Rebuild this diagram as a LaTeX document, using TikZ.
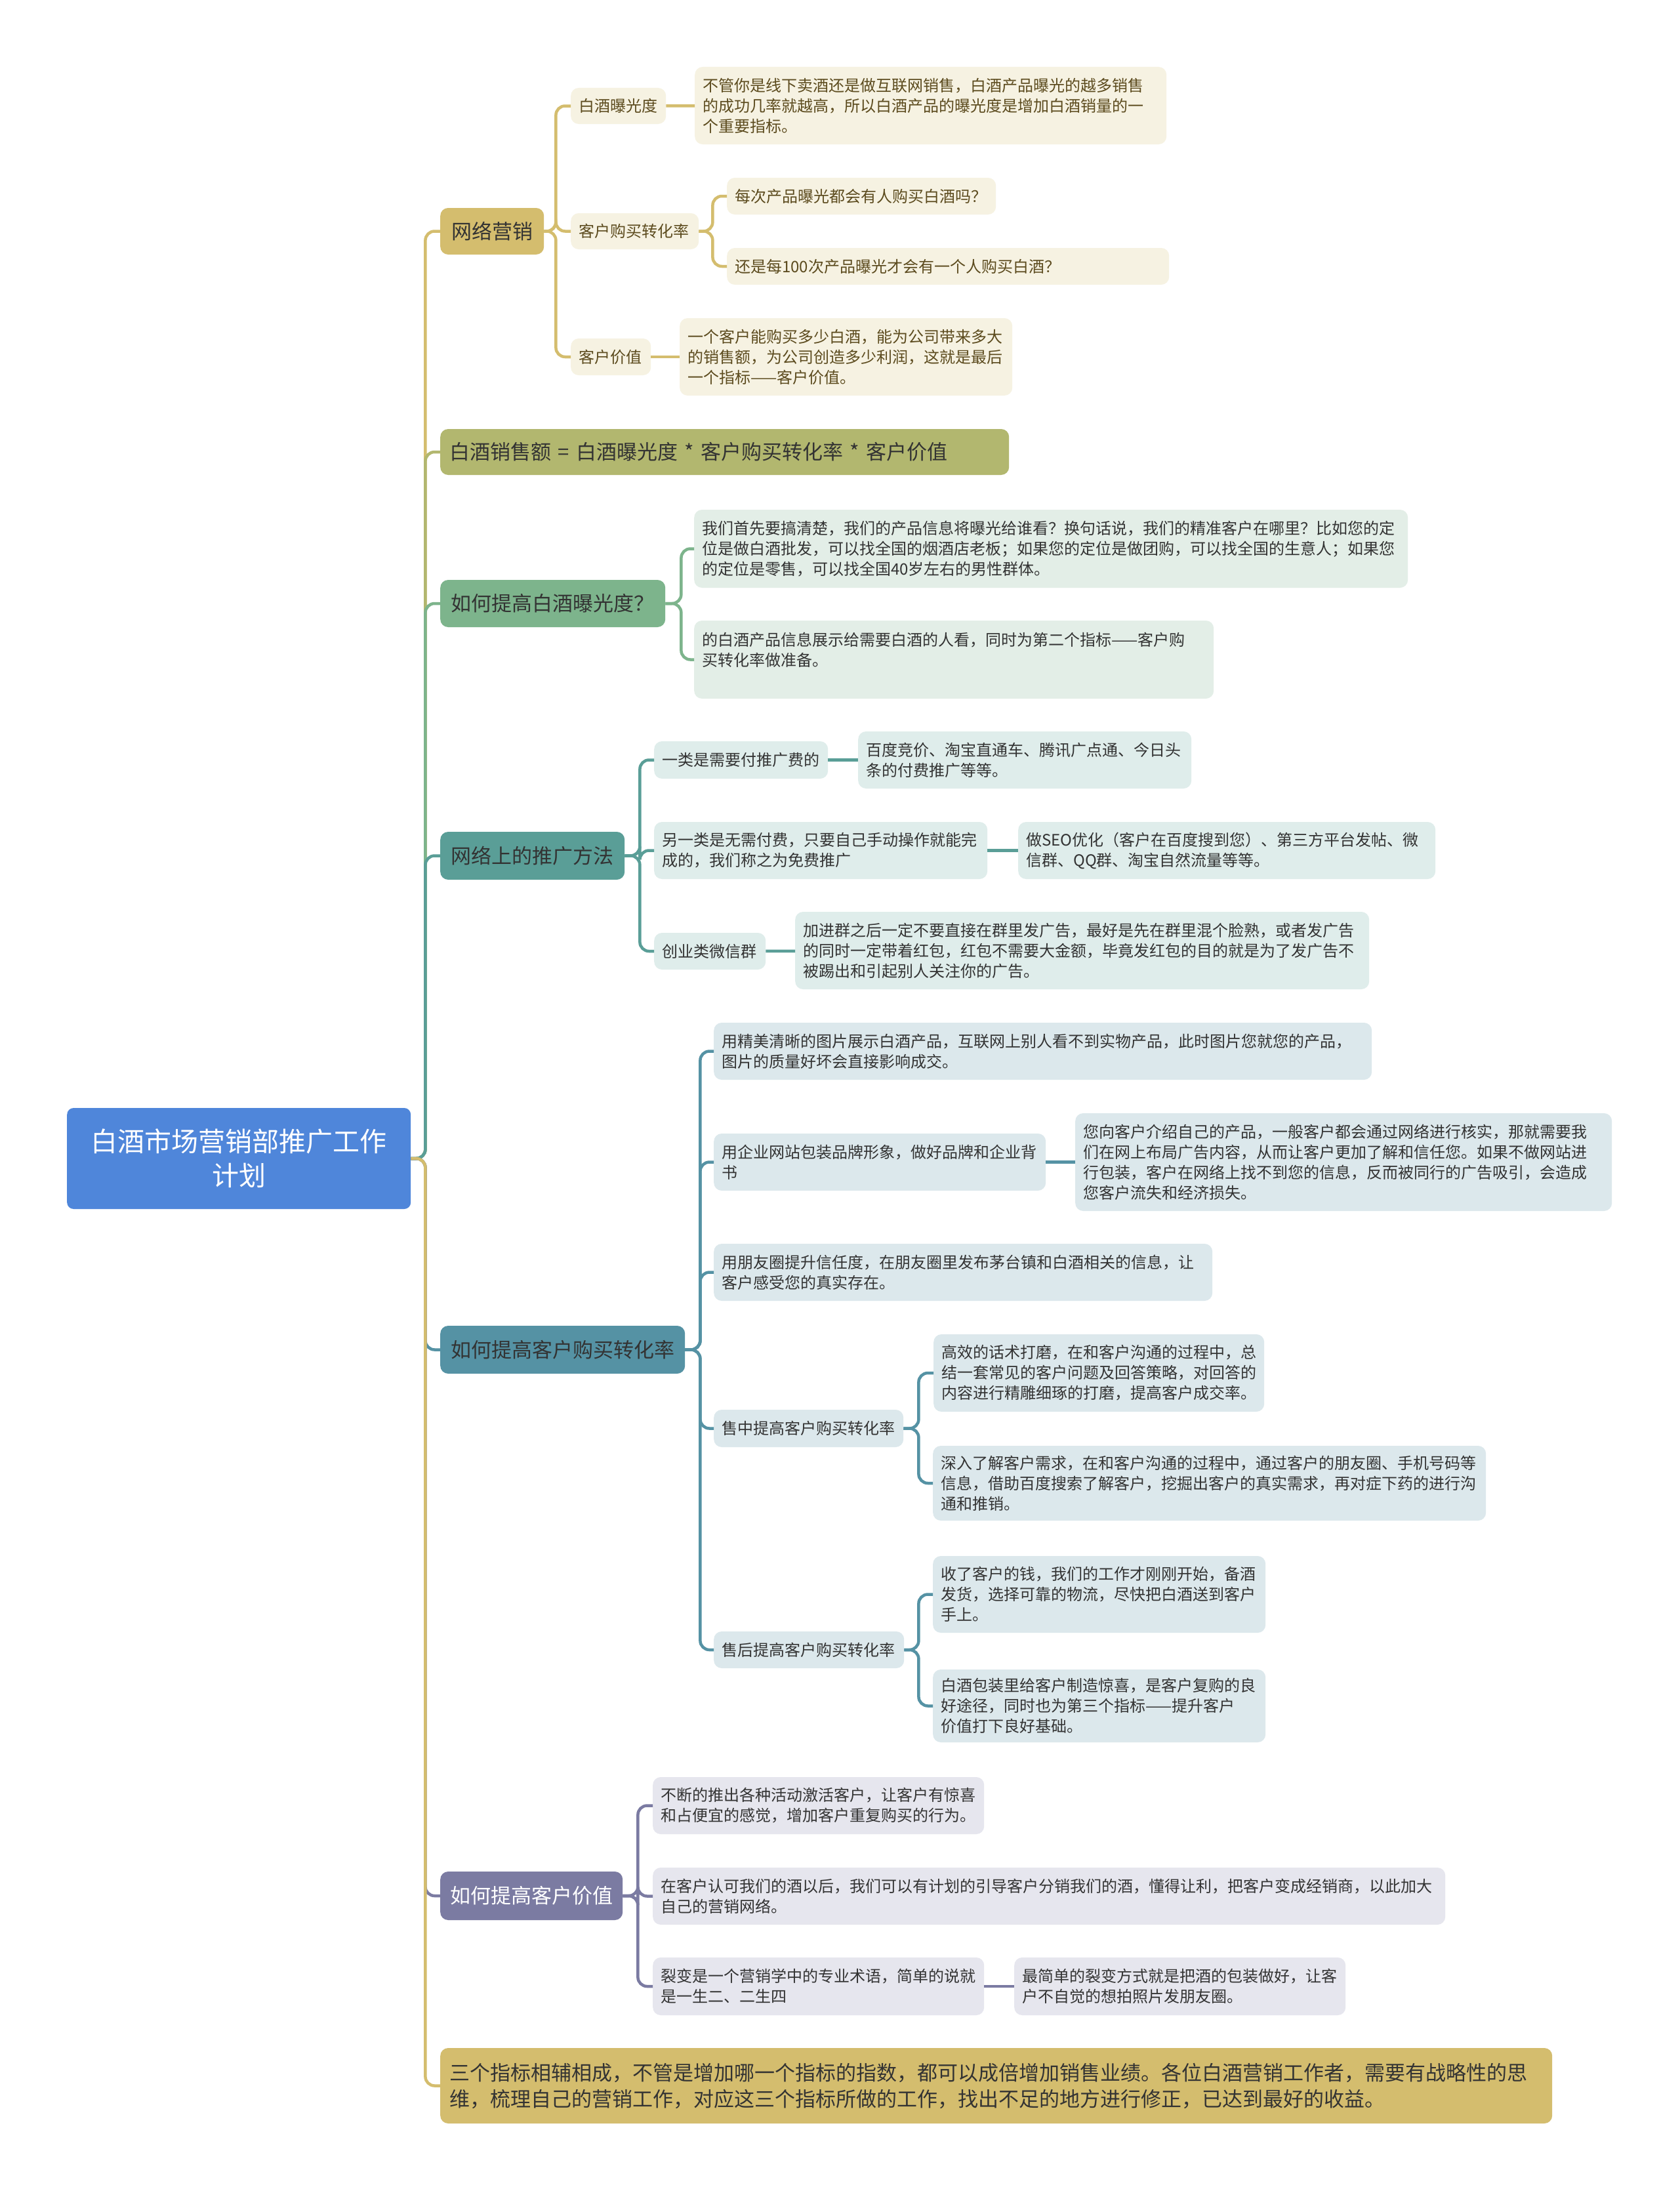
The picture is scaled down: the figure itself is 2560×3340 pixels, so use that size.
\documentclass[tikz,border=0pt]{standalone}
\usepackage{fontspec}
\setmainfont{Noto Sans CJK SC}
\definecolor{cRoot}{RGB}{79,134,218}
\definecolor{cGold}{RGB}{212,189,110}
\definecolor{cGoldL}{RGB}{246,242,226}
\definecolor{cGoldT}{RGB}{92,75,30}
\definecolor{cOlive}{RGB}{178,183,111}
\definecolor{cGreen}{RGB}{125,180,140}
\definecolor{cGreenL}{RGB}{227,238,231}
\definecolor{cGreenT}{RGB}{51,51,51}
\definecolor{cTeal}{RGB}{90,158,151}
\definecolor{cTealL}{RGB}{223,237,235}
\definecolor{cTealT}{RGB}{51,51,51}
\definecolor{cBlue}{RGB}{85,146,164}
\definecolor{cBlueL}{RGB}{220,232,236}
\definecolor{cBlueT}{RGB}{51,51,51}
\definecolor{cPurple}{RGB}{123,123,162}
\definecolor{cPurpleL}{RGB}{230,230,238}
\definecolor{cPurpleT}{RGB}{51,51,51}
\definecolor{txt}{RGB}{51,51,51}

\tikzset{
  conn/.style={line width=4.5pt, rounded corners=14pt},
  topic/.style={anchor=west, fill=#1, rounded corners=12pt, inner xsep=14pt, inner ysep=4pt,
    align=center, text=txt, font=\fontsize{31}{40}\selectfont},
  sub/.style={anchor=west, fill=#1L, text=#1T, rounded corners=12pt, inner xsep=12pt, inner ysep=4pt,
    align=left, font=\fontsize{24}{31}\selectfont},
}

\begin{document}
\begin{tikzpicture}[x=1pt,y=1pt,yscale=-1]
\fill[white] (0,0) rectangle (2560,3340);
\useasboundingbox (0,0) rectangle (2560,3340);

% Root
\node[fill=cRoot, text=white, rounded corners=10pt, anchor=west, align=center, inner xsep=14pt,
  text width=496pt, minimum height=154pt, font=\fontsize{41}{52}\selectfont] (root) at (102,1766)
  {白酒市场营销部推广工作\\计划};

% Main topics
\node[topic=cGold, text width=130pt, minimum height=71pt] (web) at (671,352.5) {网络营销};
\node[topic=cOlive, align=left, text width=839pt, minimum height=70pt] (formula) at (671,689) {白酒销售额 = 白酒曝光度 * 客户购买转化率 * 客户价值};
\node[topic=cGreen, text width=315pt, minimum height=72pt] (expo) at (671,920) {如何提高白酒曝光度？};
\node[topic=cTeal, text width=253pt, minimum height=73pt] (promo) at (671,1304.5) {网络上的推广方法};
\node[topic=cBlue, text width=345pt, minimum height=73pt] (conv) at (671,2057.5) {如何提高客户购买转化率};
\node[topic=cPurple, text=white, text width=250pt, minimum height=74pt] (value) at (671,2890) {如何提高客户价值};
\node[topic=cGold, align=left, text width=1667pt, minimum height=115pt] (summary) at (671,3179.5)
  {三个指标相辅相成，不管是增加哪一个指标的指数，都可以成倍增加销售业绩。各位白酒营销工作者，需要有战略性的思\\维，梳理自己的营销工作，对应这三个指标所做的工作，找出不足的地方进行修正，已达到最好的收益。};

% Branch: 网络营销
\node[sub=cGold, text width=121pt, minimum height=55pt] (expoIdx) at (870,161.5) {白酒曝光度};
\node[sub=cGold, text width=695pt, minimum height=118pt] (expoTxt) at (1059,161)
  {不管你是线下卖酒还是做互联网销售，白酒产品曝光的越多销售\\的成功几率就越高，所以白酒产品的曝光度是增加白酒销量的一\\个重要指标。};
\node[sub=cGold, text width=171pt, minimum height=55pt] (convIdx) at (870,352.5) {客户购买转化率};
\node[sub=cGold, text width=386pt, minimum height=56pt] (convQa) at (1108,299) {每次产品曝光都会有人购买白酒吗？};
\node[sub=cGold, text width=650pt, minimum height=56pt] (convQb) at (1108,406) {还是每100次产品曝光才会有一个人购买白酒？};
\node[sub=cGold, text width=98pt, minimum height=56pt] (valIdx) at (870,544) {客户价值};
\node[sub=cGold, text width=483pt, minimum height=118pt] (valTxt) at (1036,544)
  {一个客户能购买多少白酒，能为公司带来多大\\的销售额，为公司创造多少利润，这就是最后\\一个指标——客户价值。};

% Branch: 如何提高白酒曝光度
\node[sub=cGreen, text width=1064pt, minimum height=119pt] (expoA) at (1058,836.5)
  {我们首先要搞清楚，我们的产品信息将曝光给谁看？换句话说，我们的精准客户在哪里？比如您的定\\位是做白酒批发，可以找全国的烟酒店老板；如果您的定位是做团购，可以找全国的生意人；如果您\\的定位是零售，可以找全国40岁左右的男性群体。};
\node[sub=cGreen, text width=768pt, minimum height=119pt] (expoB) at (1058,1005.5)
  {的白酒产品信息展示给需要白酒的人看，同时为第二个指标——客户购\\买转化率做准备。\\~};

% Branch: 网络上的推广方法
\node[sub=cTeal, text width=241pt, minimum height=57pt] (paid) at (997,1158.5) {一类是需要付推广费的};
\node[sub=cTeal, text width=484pt, minimum height=87pt] (paidTxt) at (1308,1158.5)
  {百度竞价、淘宝直通车、腾讯广点通、今日头\\条的付费推广等等。};
\node[sub=cTeal, text width=484pt, minimum height=87pt] (free) at (997,1296.5)
  {另一类是无需付费，只要自己手动操作就能完\\成的，我们称之为免费推广};
\node[sub=cTeal, text width=612pt, minimum height=87pt] (freeTxt) at (1552,1296.5)
  {做SEO优化（客户在百度搜到您）、第三方平台发帖、微\\信群、QQ群、淘宝自然流量等等。};
\node[sub=cTeal, text width=146pt, minimum height=56pt] (wechat) at (997,1450) {创业类微信群};
\node[sub=cTeal, text width=851pt, minimum height=118pt] (wechatTxt) at (1212,1449)
  {加进群之后一定不要直接在群里发广告，最好是先在群里混个脸熟，或者发广告\\的同时一定带着红包，红包不需要大金额，毕竟发红包的目的就是为了发广告不\\被踢出和引起别人关注你的广告。};

% Branch: 如何提高客户购买转化率
\node[sub=cBlue, text width=979pt, minimum height=87pt] (photo) at (1088,1602.5)
  {用精美清晰的图片展示白酒产品，互联网上别人看不到实物产品，此时图片您就您的产品，\\图片的质量好坏会直接影响成交。};
\node[sub=cBlue, text width=482pt, minimum height=87pt] (site) at (1088,1771.5)
  {用企业网站包装品牌形象，做好品牌和企业背\\书};
\node[sub=cBlue, text width=794pt, minimum height=149pt] (siteTxt) at (1639,1771.5)
  {您向客户介绍自己的产品，一般客户都会通过网络进行核实，那就需要我\\们在网上布局广告内容，从而让客户更加了解和信任您。如果不做网站进\\行包装，客户在网络上找不到您的信息，反而被同行的广告吸引，会造成\\您客户流失和经济损失。};
\node[sub=cBlue, text width=736pt, minimum height=87pt] (moments) at (1088,1939.5)
  {用朋友圈提升信任度，在朋友圈里发布茅台镇和白酒相关的信息，让\\客户感受您的真实存在。};
\node[sub=cBlue, text width=265pt, minimum height=57pt] (inSale) at (1088,2177.5) {售中提高客户购买转化率};
\node[sub=cBlue, text width=480pt, minimum height=118pt] (inSaleA) at (1423,2093)
  {高效的话术打磨，在和客户沟通的过程中，总\\结一套常见的客户问题及回答策略，对回答的\\内容进行精雕细琢的打磨，提高客户成交率。};
\node[sub=cBlue, text width=819pt, minimum height=114pt] (inSaleB) at (1422,2261)
  {深入了解客户需求，在和客户沟通的过程中，通过客户的朋友圈、手机号码等\\信息，借助百度搜索了解客户，挖掘出客户的真实需求，再对症下药的进行沟\\通和推销。};
\node[sub=cBlue, text width=266pt, minimum height=56pt] (afterSale) at (1088,2515) {售后提高客户购买转化率};
\node[sub=cBlue, text width=483pt, minimum height=117pt] (afterSaleA) at (1422,2430.5)
  {收了客户的钱，我们的工作才刚刚开始，备酒\\发货，选择可靠的物流，尽快把白酒送到客户\\手上。};
\node[sub=cBlue, text width=483pt, minimum height=111pt] (afterSaleB) at (1422,2600.5)
  {白酒包装里给客户制造惊喜，是客户复购的良\\好途径，同时也为第三个指标——提升客户\\价值打下良好基础。};

% Branch: 如何提高客户价值
\node[sub=cPurple, text width=481pt, minimum height=87pt] (activity) at (995,2752.5)
  {不断的推出各种活动激活客户，让客户有惊喜\\和占便宜的感觉，增加客户重复购买的行为。};
\node[sub=cPurple, text width=1184pt, minimum height=87pt] (dealer) at (995,2890.5)
  {在客户认可我们的酒以后，我们可以有计划的引导客户分销我们的酒，懂得让利，把客户变成经销商，以此加大\\自己的营销网络。};
\node[sub=cPurple, text width=481pt, minimum height=88pt] (fission) at (995,3028)
  {裂变是一个营销学中的专业术语，简单的说就\\是一生二、二生四};
\node[sub=cPurple, text width=481pt, minimum height=88pt] (fissionTxt) at (1546,3028)
  {最简单的裂变方式就是把酒的包装做好，让客\\户不自觉的想拍照片发朋友圈。};

% Connectors from root
\draw[conn, cGold] (root.east) -- ++(22,0) |- (web.west);
\draw[conn, cOlive] (root.east) -- ++(22,0) |- (formula.west);
\draw[conn, cGreen] (root.east) -- ++(22,0) |- (expo.west);
\draw[conn, cTeal] (root.east) -- ++(22,0) |- (promo.west);
\draw[conn, cBlue] (root.east) -- ++(22,0) |- (conv.west);
\draw[conn, cPurple] (root.east) -- ++(22,0) |- (value.west);
\draw[conn, cGold] (root.east) -- ++(22,0) |- (summary.west);

% Connectors inside branches
\foreach \c in {expoIdx,convIdx,valIdx}
  \draw[conn, cGold] (web.east) -- ++(18,0) |- (\c.west);
\draw[conn, cGold] (expoIdx) -- (expoTxt);
\draw[conn, cGold] (valIdx) -- (valTxt);
\foreach \c in {convQa,convQb}
  \draw[conn, cGold] (convIdx.east) -- ++(21,0) |- (\c.west);

\foreach \c in {expoA,expoB}
  \draw[conn, cGreen] (expo.east) -- ++(24,0) |- (\c.west);

\foreach \c in {paid,free,wechat}
  \draw[conn, cTeal] (promo.east) -- ++(23,0) |- (\c.west);
\draw[conn, cTeal] (paid) -- (paidTxt);
\draw[conn, cTeal] (free) -- (freeTxt);
\draw[conn, cTeal] (wechat) -- (wechatTxt);

\foreach \c in {photo,site,moments,inSale,afterSale}
  \draw[conn, cBlue] (conv.east) -- ++(23,0) |- (\c.west);
\draw[conn, cBlue] (site) -- (siteTxt);
\foreach \c in {inSaleA,inSaleB}
  \draw[conn, cBlue] (inSale.east) -- ++(23,0) |- (\c.west);
\foreach \c in {afterSaleA,afterSaleB}
  \draw[conn, cBlue] (afterSale.east) -- ++(22,0) |- (\c.west);

\foreach \c in {activity,dealer,fission}
  \draw[conn, cPurple] (value.east) -- ++(23,0) |- (\c.west);
\draw[conn, cPurple] (fission) -- (fissionTxt);

\end{tikzpicture}
\end{document}
